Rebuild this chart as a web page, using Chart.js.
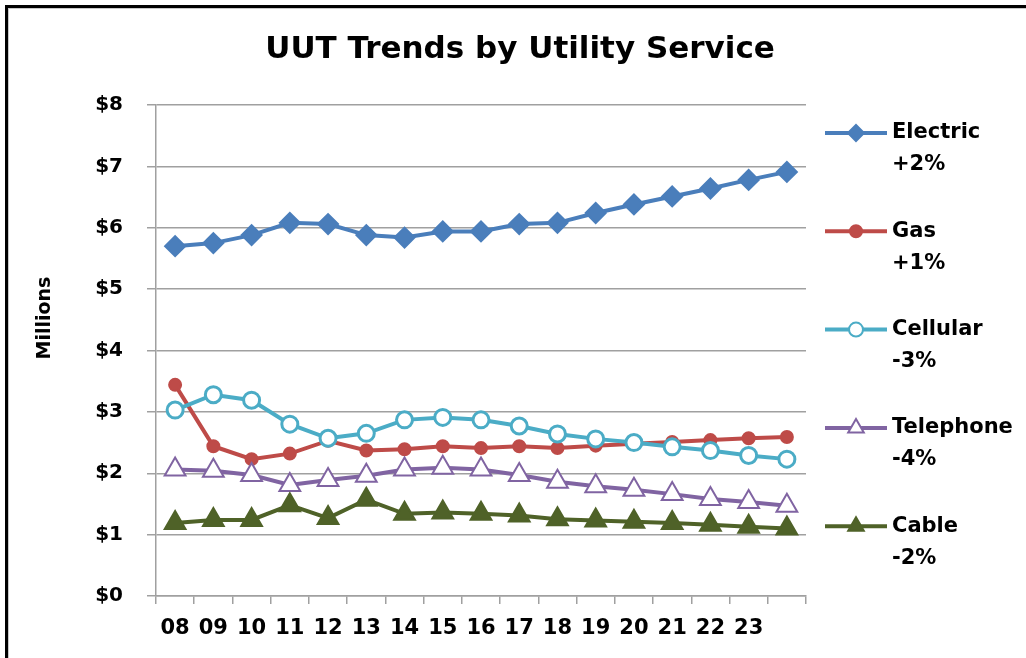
<!DOCTYPE html>
<html>
<head>
<meta charset="utf-8">
<script src="https://cdn.jsdelivr.net/npm/chart.js@4.4.0/dist/chart.umd.min.js"></script>
<style>
  html, body { margin: 0; padding: 0; background: #fff; }
  .chart-box { position: relative; width: 1026px; height: 658px; }
</style>
</head>
<body>
<div class="chart-box"><canvas id="myChart"></canvas></div>
<script>
// years shown on the axis, last point has no label
const years = ['08', '09', '10', '11', '12', '13', '14', '15', '16', '17', '18', '19', '20', '21', '22', '23', ''];

// values in millions of dollars
const electric = [5.70, 5.75, 5.88, 6.08, 6.06, 5.88, 5.84, 5.94, 5.94, 6.06, 6.08, 6.24, 6.38, 6.51, 6.64, 6.78, 6.91];
const gas = [3.44, 2.44, 2.23, 2.32, 2.53, 2.37, 2.39, 2.44, 2.41, 2.44, 2.41, 2.45, 2.48, 2.51, 2.54, 2.57, 2.59];
const cellular = [3.03, 3.28, 3.19, 2.80, 2.57, 2.65, 2.87, 2.91, 2.87, 2.77, 2.64, 2.56, 2.50, 2.43, 2.37, 2.29, 2.23];
const telephone = [2.06, 2.04, 1.97, 1.81, 1.89, 1.96, 2.06, 2.09, 2.06, 1.97, 1.86, 1.79, 1.73, 1.66, 1.58, 1.53, 1.47];
const cable = [1.19, 1.24, 1.24, 1.48, 1.27, 1.57, 1.34, 1.36, 1.34, 1.31, 1.25, 1.23, 1.21, 1.19, 1.16, 1.13, 1.10];

const seriesNames = ['Electric', 'Gas', 'Cellular', 'Telephone', 'Cable'];
const seriesChange = ['+2%', '+1%', '-3%', '-4%', '-2%'];
const yTickValues = [0, 1, 2, 3, 4, 5, 6, 7, 8];

const chartTitle = 'UUT Trends by Utility Service';
const yTitle = 'Millions';

const FONT = '"DejaVu Sans", "Liberation Sans", sans-serif';

function mkSet(name, data, color, style, radius, fill, bw, legendR, idx) {
  return {
    label: name,
    data: data,
    borderColor: color,
    backgroundColor: color,
    borderWidth: 4,
    pointStyle: style,
    pointRadius: radius,
    pointHoverRadius: radius,
    pointBackgroundColor: fill,
    pointBorderColor: color,
    pointBorderWidth: bw,
    tension: 0,
    order: 4 - idx,
    legendRadius: legendR
  };
}

const datasets = [
  mkSet(seriesNames[0], electric, '#4a7ebb', 'rectRot', 10, '#4a7ebb', 2, 8, 0),
  mkSet(seriesNames[1], gas, '#be4b48', 'circle', 6, '#be4b48', 2, 6, 1),
  mkSet(seriesNames[2], cellular, '#4bacc6', 'circle', 8, '#ffffff', 3, 7, 2),
  mkSet(seriesNames[3], telephone, '#8064a2', 'triangle', 12, '#ffffff', 2, 9, 3),
  mkSet(seriesNames[4], cable, '#4f6228', 'triangle', 12, '#4f6228', 2, 9, 4)
];

// draws one marker the same way chart.js shapes them
function drawMarker(ctx, style, x, y, r, fill, stroke, lw) {
  ctx.save();
  ctx.beginPath();
  if (style == 'rectRot') {
    ctx.moveTo(x - r, y);
    ctx.lineTo(x, y - r);
    ctx.lineTo(x + r, y);
    ctx.lineTo(x, y + r);
    ctx.closePath();
  } else if (style == 'triangle') {
    let a = 0;
    ctx.moveTo(x + Math.sin(a) * r, y - Math.cos(a) * r);
    a += Math.PI * 2 / 3;
    ctx.lineTo(x + Math.sin(a) * r, y - Math.cos(a) * r);
    a += Math.PI * 2 / 3;
    ctx.lineTo(x + Math.sin(a) * r, y - Math.cos(a) * r);
    ctx.closePath();
  } else {
    ctx.arc(x, y, r, 0, Math.PI * 2);
  }
  ctx.fillStyle = fill;
  ctx.fill();
  ctx.lineWidth = lw;
  ctx.strokeStyle = stroke;
  ctx.stroke();
  ctx.restore();
}

const decorPlugin = {
  id: 'decor',
  beforeDraw(chart) {
    const ctx = chart.ctx;
    ctx.save();
    ctx.fillStyle = '#fff';
    ctx.fillRect(0, 0, chart.width, chart.height);
    // frame (only top & left visible in the picture)
    ctx.fillStyle = '#000';
    ctx.fillRect(5, 5, chart.width, 3);
    ctx.fillRect(5, 5, 3, chart.height);
    ctx.fillStyle = '#c8c8c8';
    ctx.fillRect(8, 8, chart.width, 1);
    ctx.fillRect(8, 8, 1, chart.height);
    ctx.restore();
  },
  afterDraw(chart) {
    const ctx = chart.ctx;
    ctx.save();
    ctx.fillStyle = '#000';
    ctx.textBaseline = 'middle';

    ctx.font = 'bold 31px ' + FONT;
    ctx.textAlign = 'center';
    ctx.fillText(chartTitle, 520, 50);

    ctx.save();
    ctx.translate(45, 318);
    ctx.rotate(-Math.PI / 2);
    ctx.font = 'bold 19px ' + FONT;
    ctx.fillText(yTitle, 0, 0);
    ctx.restore();

    // legend with two-line labels
    ctx.textAlign = 'left';
    ctx.font = 'bold 21px ' + FONT;
    chart.data.datasets.forEach(function (ds, i) {
      let y = 133 + i * 98.3;
      ctx.strokeStyle = ds.borderColor;
      ctx.lineWidth = 4;
      ctx.beginPath();
      ctx.moveTo(825, y);
      ctx.lineTo(887, y);
      ctx.stroke();
      drawMarker(ctx, ds.pointStyle, 856, y, ds.legendRadius, ds.pointBackgroundColor, ds.pointBorderColor, 2);
      ctx.fillStyle = '#000';
      ctx.fillText(ds.label, 892, y);
      ctx.fillText(seriesChange[i], 892, y + 32);
    });
    ctx.restore();
  }
};

new Chart(document.getElementById('myChart'), {
  type: 'line',
  data: { labels: years, datasets: datasets },
  plugins: [decorPlugin],
  options: {
    responsive: true,
    maintainAspectRatio: false,
    animation: false,
    layout: { padding: { left: 0, top: 105, right: 220, bottom: 0 } },
    plugins: {
      legend: { display: false },
      title: { display: false },
      tooltip: { enabled: false }
    },
    scales: {
      x: {
        offset: true,
        afterFit: function (scale) { scale.height = 62; },
        grid: {
          offset: true,
          drawOnChartArea: false,
          drawTicks: true,
          tickLength: 8,
          color: '#a0a0a0',
          lineWidth: 1.5
        },
        border: { color: '#a0a0a0', width: 1.5 },
        ticks: {
          autoSkip: false,
          maxRotation: 0,
          padding: 12,
          color: '#000',
          font: { family: FONT, size: 21, weight: 'bold' }
        }
      },
      y: {
        min: yTickValues[0],
        max: yTickValues[yTickValues.length - 1],
        afterFit: function (scale) { scale.width = 156; },
        afterBuildTicks: function (scale) {
          scale.ticks = yTickValues.map(v => ({ value: v }));
        },
        grid: {
          color: '#a0a0a0',
          lineWidth: 1.5,
          drawTicks: true,
          tickLength: 9
        },
        border: { color: '#a0a0a0', width: 1.5 },
        ticks: {
          padding: 24,
          color: '#000',
          font: { family: FONT, size: 20, weight: 'bold' },
          callback: function (v) { return '$' + v; }
        }
      }
    }
  }
});
</script>
</body>
</html>
